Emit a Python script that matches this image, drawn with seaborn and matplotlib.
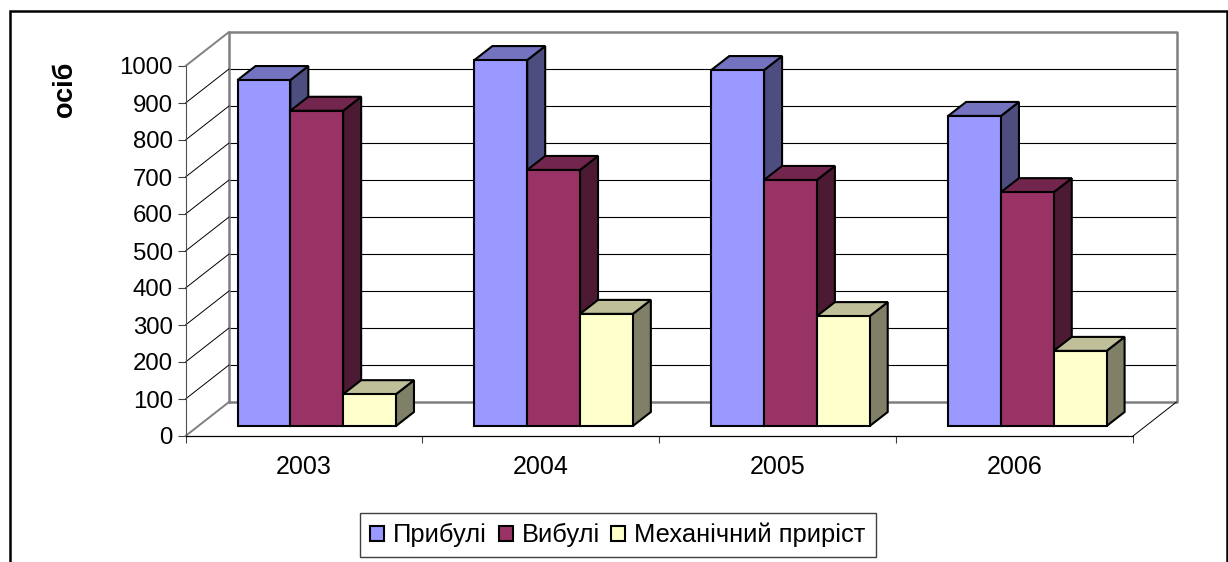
import pandas as pd
import matplotlib
matplotlib.use('Agg')
import matplotlib.pyplot as plt
import seaborn as sns
from matplotlib.colors import to_rgb
from matplotlib.lines import Line2D
from matplotlib.patches import Patch, Polygon, Rectangle
from matplotlib.transforms import Affine2D, IdentityTransform

years = ['2003', '2004', '2005', '2006']
series = ['Прибулі', 'Вибулі', 'Механічний приріст']
arrived = [935, 989, 962, 838]
departed = [852, 692, 665, 632]
migration = [86, 303, 297, 203]
colors = ['#9999FF', '#993366', '#FFFFCC']
y_ticks = list(range(0, 1001, 100))

W, H = 1228, 562

df = pd.DataFrame({
    'year': years * 3,
    'series': [s for s in series for _ in years],
    'value': arrived + departed + migration,
})

sns.set_style('white')
plt.rcParams['font.family'] = ['Liberation Sans', 'DejaVu Sans']

fig = plt.figure(figsize=(W / 100, H / 100), dpi=100)
ax = fig.add_axes([185.5 / W, (H - 436) / H, 947.5 / W, 370 / H])
ax.patch.set_alpha(0)

sns.barplot(data=df, x='year', y='value', hue='series', palette=colors, width=0.669,
            gap=0, saturation=1, edgecolor='black', linewidth=1.5, legend=False, ax=ax)

ax.set_xlim(-0.5, 3.5)
ax.set_ylim(0, 1000)
ax.set_xlabel('')
ax.set_ylabel('')
ax.set_yticks(y_ticks)
ax.set_xticks([-0.5, 0.5, 1.5, 2.5, 3.5], minor=True)
ax.tick_params(axis='x', which='major', bottom=False, length=0, pad=14, labelsize=18, labelcolor='black')
ax.tick_params(axis='x', which='minor', bottom=True, length=5, width=0.8, color='#404040')
ax.tick_params(axis='y', left=True, length=6, width=0.8, pad=3, labelsize=17.3, color='#404040', labelcolor='black')
sns.despine(ax=ax)
ax.spines['left'].set_color('#505050')
ax.spines['left'].set_linewidth(0.8)
ax.spines['bottom'].set_color('black')
ax.spines['bottom'].set_linewidth(0.9)

fig.canvas.draw()

# pixel shifts of the 3D box
wall_dx, wall_dy = 43.5, 34
bar_dx, bar_dy = 12.8, 10
depth_dx, depth_dy = 18, 14
px = IdentityTransform()


def to_px(x, y, dx=0, dy=0):
    a, b = ax.transData.transform((x, y))
    return a + dx, b + dy


# walls
wall = ax.transData + Affine2D().translate(wall_dx, wall_dy)
ax.hlines(y_ticks[1:-1], -0.5, 3.5, colors='black', lw=0.8, transform=wall, zorder=0.5, clip_on=False)
ax.plot([-0.5, -0.5, 3.5, 3.5, -0.5], [0, 1000, 1000, 0, 0], color='#808080', lw=1.8,
        transform=wall, zorder=0.6, clip_on=False)
for t in y_ticks:
    gray = t in (0, 1000)
    ax.add_line(Line2D(*zip(to_px(-0.5, t), to_px(-0.5, t, wall_dx, wall_dy)),
                       color='#808080' if gray else 'black', lw=1.4 if gray else 0.7,
                       transform=px, zorder=0.7, clip_on=False))
ax.add_line(Line2D(*zip(to_px(3.5, 0), to_px(3.5, 0, wall_dx, wall_dy)), color='black', lw=0.7,
                   transform=px, zorder=0.7, clip_on=False))

# bars: shift the fronts and add side and top faces
shift = ax.transData + Affine2D().translate(bar_dx, bar_dy)
bars = []
for i, container in enumerate(ax.containers):
    for patch in container:
        bars.append((patch.get_x(), i, patch))
bars.sort(key=lambda b: b[0])

for n, (x0, i, patch) in enumerate(bars):
    base = to_rgb(colors[i])
    x1 = x0 + patch.get_width()
    h = patch.get_height()
    z = 2 + n * 0.1
    a = to_px(x1, 0, bar_dx, bar_dy)
    b = to_px(x1, h, bar_dx, bar_dy)
    c = to_px(x0, h, bar_dx, bar_dy)
    side = [a, b, (b[0] + depth_dx, b[1] + depth_dy), (a[0] + depth_dx, a[1] + depth_dy)]
    top = [c, b, (b[0] + depth_dx, b[1] + depth_dy), (c[0] + depth_dx, c[1] + depth_dy)]
    ax.add_patch(Polygon(side, closed=True, fc=[v * 0.5 for v in base], ec='black', lw=1.5,
                         transform=px, zorder=z, clip_on=False))
    ax.add_patch(Polygon(top, closed=True, fc=[v * 0.75 for v in base], ec='black', lw=1.5,
                         transform=px, zorder=z + 0.01, clip_on=False))
    patch.set_transform(shift)
    patch.set_zorder(z + 0.02)
    patch.set_clip_on(False)

# outer frame runs past the bottom of the picture
fig.add_artist(Rectangle((9.5, -20), 1217, H - 10.5 + 20, fc='none', ec='black', lw=1.8, transform=px))

fig.text(65 / W, (H - 89) / H, 'осіб', rotation=90, ha='center', va='center',
         fontsize=19.5, fontweight='bold', color='black')

handles = [Patch(fc=c, ec='black', lw=1.5) for c in colors]
fig.legend(handles, series, loc='center', bbox_to_anchor=(618 / W, (H - 535) / H), ncols=3,
           fontsize=18.4, labelcolor='black', frameon=True, fancybox=False, framealpha=1,
           edgecolor='#404040', handlelength=0.55, handleheight=0.55, handletextpad=0.35,
           columnspacing=0.45, borderpad=0.4, borderaxespad=0)

plt.savefig('out.png', dpi=100)
